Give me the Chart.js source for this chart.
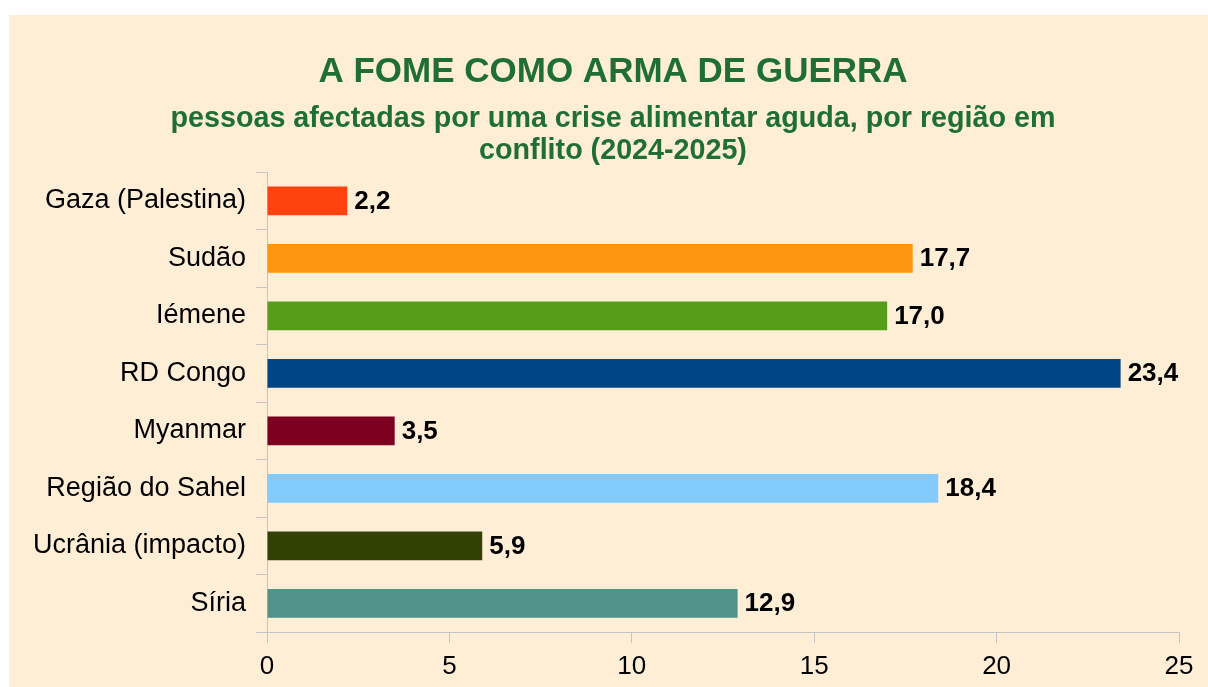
<!DOCTYPE html>
<html>
<head>
<meta charset="utf-8">
<script src="https://cdn.jsdelivr.net/npm/chart.js@4.4.1/dist/chart.umd.min.js"></script>
<style>
  html, body { margin: 0; padding: 0; background: #ffffff; }
  #wrap { position: absolute; left: 9px; top: 15px; width: 1199px; height: 672px; background: #FEEED6; }
  canvas { display: block; }
</style>
</head>
<body>
<div id="wrap"><canvas id="c" width="1199" height="672"></canvas></div>
<script>
const categories = ["Gaza (Palestina)", "Sudão", "Iémene", "RD Congo", "Myanmar", "Região do Sahel", "Ucrânia (impacto)", "Síria"];
const values = [2.2, 17.7, 17.0, 23.4, 3.5, 18.4, 5.9, 12.9];
const valueLabels = ["2,2", "17,7", "17,0", "23,4", "3,5", "18,4", "5,9", "12,9"];
const barColors = ["#FF420E", "#FF950E", "#579D1C", "#004586", "#7E0021", "#83CAFF", "#314004", "#4F9389"];
const xTicks = [0, 5, 10, 15, 20, 25];
const titleText = "A FOME COMO ARMA DE GUERRA";
const subtitleLines = ["pessoas afectadas por uma crise alimentar aguda, por região em", "conflito (2024-2025)"];

const FONT = "'Liberation Sans', Arial, sans-serif";
const GREEN = "#1F6E38";

const valueLabelPlugin = {
  id: 'valueLabels',
  afterDatasetsDraw(chart) {
    const ctx = chart.ctx;
    const meta = chart.getDatasetMeta(0);
    ctx.save();
    ctx.font = "bold 26px " + FONT;
    ctx.fillStyle = "#000000";
    ctx.textAlign = "left";
    ctx.textBaseline = "middle";
    meta.data.forEach((bar, i) => {
      ctx.fillText(valueLabels[i], bar.x + 7, bar.y + 1);
    });
    ctx.restore();
  }
};

// centre the title block over the same span as the original (slightly right of the canvas centre)
const titleShiftPlugin = {
  id: 'titleShift',
  afterLayout(chart) {
    chart.boxes.forEach(box => {
      if (box.position === 'top' && box.options && box.options.text !== undefined) {
        box.left = 38;
        box.right = chart.width - 29;
      }
    });
  }
};

new Chart(document.getElementById('c'), {
  type: 'bar',
  data: {
    labels: categories,
    datasets: [{
      data: values,
      backgroundColor: barColors,
      borderWidth: 0,
      categoryPercentage: 1.0,
      barPercentage: 0.5
    }]
  },
  options: {
    indexAxis: 'y',
    responsive: false,
    animation: false,
    layout: { padding: { left: 0, right: 29, top: 20, bottom: 0 } },
    plugins: {
      legend: { display: false },
      tooltip: { enabled: false },
      title: {
        display: true,
        text: titleText,
        color: GREEN,
        font: { family: FONT, size: 35, weight: 'bold', lineHeight: 1.2 },
        padding: { top: 16.5, bottom: 9.5 }
      },
      subtitle: {
        display: true,
        text: subtitleLines,
        color: GREEN,
        font: { family: FONT, size: 28.7, weight: 'bold', lineHeight: 1.115 },
        padding: { top: 0, bottom: 5 }
      }
    },
    scales: {
      x: {
        type: 'linear',
        min: 0,
        max: 25,
        afterBuildTicks(scale) { scale.ticks = xTicks.map(v => ({ value: v })); },
        afterFit(scale) { scale.height = 55; },
        ticks: {
          color: "#000000",
          font: { family: FONT, size: 26 },
          padding: 8,
          maxRotation: 0
        },
        grid: { drawOnChartArea: false, drawTicks: true, tickLength: 11, color: "#C4C4C4", lineWidth: 1 },
        border: { display: true, color: "#C4C4C4", width: 1 }
      },
      y: {
        afterFit(scale) { scale.width = 258; },
        ticks: {
          color: "#000000",
          font: { family: FONT, size: 27 },
          padding: 10
        },
        grid: { drawOnChartArea: false, offset: true, drawTicks: true, tickLength: 11, color: "#C4C4C4", lineWidth: 1 },
        border: { display: true, color: "#C4C4C4", width: 1 }
      }
    }
  },
  plugins: [valueLabelPlugin, titleShiftPlugin]
});
</script>
</body>
</html>
